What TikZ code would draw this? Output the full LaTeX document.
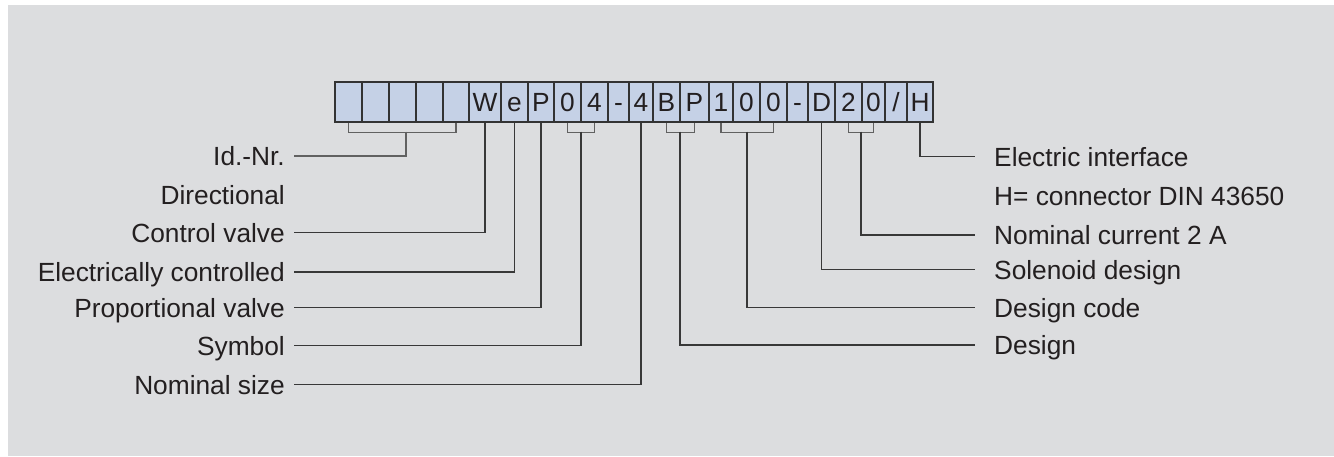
\documentclass[tikz,border=0pt]{standalone}
\usepackage{fontspec}
\setmainfont{Liberation Sans}
\definecolor{bgc}{RGB}{220,221,223}
\definecolor{cellc}{RGB}{197,209,230}
\definecolor{txt}{RGB}{35,31,32}
\newcommand{\slsym}{/}
\begin{document}
\begin{tikzpicture}[x=1pt,y=-1pt,
  every node/.style={font=\fontsize{26.3pt}{30pt}\selectfont, text=txt},
  cell/.style={draw=black!80, line width=1.3pt, fill=cellc, minimum height=40pt,
    inner sep=0pt, text height=19pt, text depth=0pt},
  llab/.style={anchor=east, inner xsep=9pt, inner ysep=0pt, text height=19pt, text depth=0pt},
  rlab/.style={anchor=west, inner xsep=19pt, inner ysep=0pt, text height=19pt, text depth=0pt},
  conn/.style={draw=black!78, line width=1.1pt},
  brk/.style={draw=black!62, line width=1.3pt}]
\useasboundingbox (0,0) rectangle (1334,456);
\fill[bgc] (8,5) rectangle (1334,456);
% code cells
\foreach \l/\r/\t [count=\i] in {335/362/{},362/389/{},389/416/{},416/443/{},443/469/{},
  469/501/W,501/528/e,528/554/P,554/581/0,581/608/4,608/629/-,629/653/4,
  653/680/B,680/709/P,709/733/1,733/760/0,760/787/0,787/808/-,808/835/D,
  835/862/2,862/885/0,885/907/\slsym,907/933/H}{
  \pgfmathsetmacro{\w}{\r-\l}
  \pgfmathsetmacro{\cx}{(\r+\l)/2}
  \node[cell, minimum width=\w pt] (c\i) at (\cx,102) {\t};
}
% left labels
\node[llab] (lid)  at (294,156)   {Id.-Nr.};
\node[llab] (ldir) at (294,194.5) {Directional};
\node[llab] (lcv)  at (294,232.7) {Control valve};
\node[llab] (lec)  at (294,272)   {Electrically controlled};
\node[llab] (lpv)  at (294,307.5) {Proportional valve};
\node[llab] (lsym) at (294,345.5) {Symbol};
\node[llab] (lns)  at (294,384.5) {Nominal size};
% right labels
\node[rlab] (rei)  at (975,156.5) {Electric interface};
\node[rlab] (rh)   at (975,196)   {H= connector DIN 43650};
\node[rlab] (rnc)  at (975,235)   {Nominal current 2 A};
\node[rlab] (rsol) at (975,269.5) {Solenoid design};
\node[rlab] (rdc)  at (975,307.5) {Design code};
\node[rlab] (rdes) at (975,345)   {Design};
% brackets
\draw[brk] (c1.south) -- ++(0,9.5) -| (c5.south);
\draw[brk] (c9.south) -- ++(0,9.5) -| (c10.south);
\draw[brk] (c13.south) -- ++(0,9.5) -| (c14.south);
\draw[brk] (c15.south) -- ++(0,9.5) -| (c17.south);
\draw[brk] (c20.south) -- ++(0,9.5) -| (c21.south);
\coordinate (bid)  at (406,131.5);
\coordinate (bsym) at (581,131.5);
\coordinate (bdes) at (680,131.5);
\coordinate (bdc)  at (747,131.5);
\coordinate (bnc)  at (861,131.5);
% connectors
\draw[brk]  (bid) |- (lid.east);
\draw[conn] (c6.south) |- (lcv.east);
\draw[conn] (c7.south) |- (lec.east);
\draw[conn] (c8.south) |- (lpv.east);
\draw[conn] (bsym) |- (lsym.east);
\draw[conn] (c12.south) |- (lns.east);
\draw[conn] (bdes) |- (rdes.west);
\draw[conn] (bdc) |- (rdc.west);
\draw[conn] (c19.south) |- (rsol.west);
\draw[conn] (bnc) |- (rnc.west);
\draw[conn] (c23.south) |- (rei.west);
\end{tikzpicture}
\end{document}
